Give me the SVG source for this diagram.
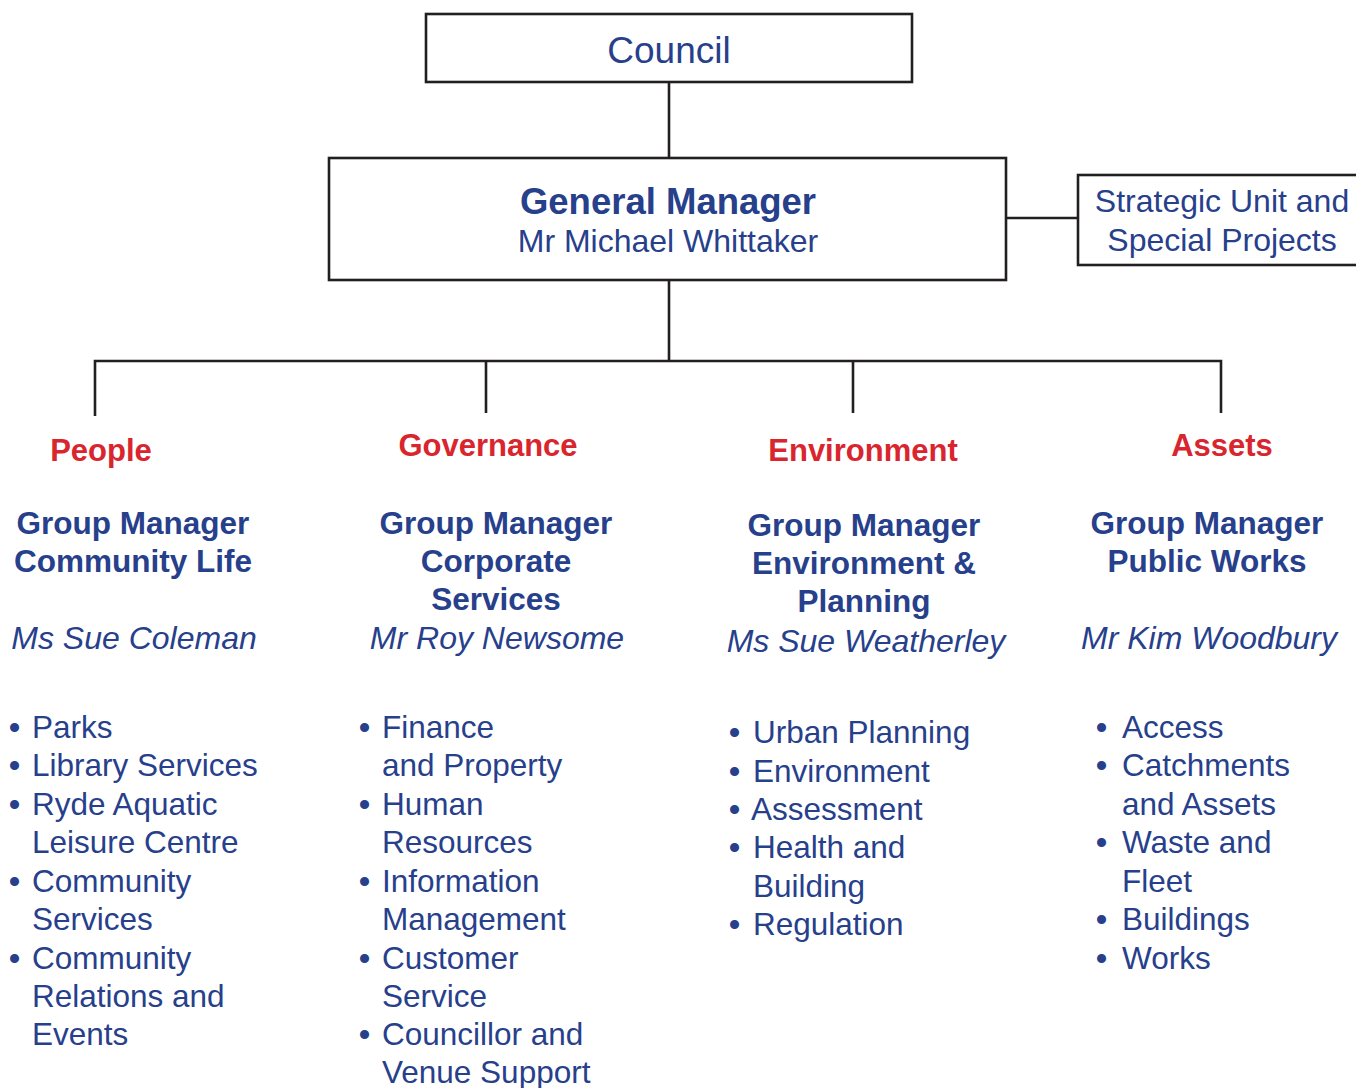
<svg xmlns="http://www.w3.org/2000/svg" width="1356" height="1088" viewBox="0 0 1356 1088">
  <style>
    .box { fill: #ffffff; stroke: #231f20; stroke-width: 2.6; }
    .wire { fill: none; stroke: #231f20; stroke-width: 2.6; }
    text { font-family: "Liberation Sans", Arial, sans-serif; fill: #27408b; }
    .mid { text-anchor: middle; }
    .head { font-weight: bold; font-size: 31px; fill: #d9252e; }
    .gm { font-weight: bold; font-size: 31.5px; }
    .name { font-style: italic; font-size: 32px; }
    .item { font-size: 31.5px; }
    .dot { font-weight: bold; }
  </style>
  <rect width="1356" height="1088" fill="#ffffff"/>

  <!-- connectors -->
  <g id="connectors">
    <line class="wire" x1="669" y1="82" x2="669" y2="158"/>
    <line class="wire" x1="1006" y1="218" x2="1078" y2="218"/>
    <line class="wire" x1="669" y1="280" x2="669" y2="361"/>
    <path class="wire" d="M95 416 V361 H1221 V413"/>
    <line class="wire" x1="486" y1="361" x2="486" y2="413"/>
    <line class="wire" x1="853" y1="361" x2="853" y2="413"/>
  </g>

  <g id="council">
    <rect class="box" x="426" y="14" width="486" height="68"/>
    <text class="mid" x="669" y="63" font-size="37">Council</text>
  </g>

  <g id="general-manager">
    <rect class="box" x="329" y="158" width="677" height="122"/>
    <text class="mid" x="668" y="214" font-size="36.5" font-weight="bold">General Manager</text>
    <text class="mid" x="668" y="252" font-size="32">Mr Michael Whittaker</text>
  </g>

  <g id="strategic-unit">
    <rect class="box" x="1078" y="175" width="292" height="90"/>
    <text class="mid" x="1222" y="212" font-size="32">Strategic Unit and</text>
    <text class="mid" x="1222" y="251" font-size="32">Special Projects</text>
  </g>

  <!-- bulleted lines: bullet glyph, then the item text at a fixed indent -->
  <g id="people">
    <text class="head mid" x="101" y="461">People</text>
    <text class="gm mid" x="133" y="534">Group Manager</text>
    <text class="gm mid" x="133" y="572">Community Life</text>
    <text class="name mid" x="134" y="649">Ms Sue Coleman</text>
    <g class="item">
      <text x="9" y="738"><tspan class="dot">•</tspan><tspan x="32">Parks</tspan></text>
      <text x="9" y="776"><tspan class="dot">•</tspan><tspan x="32">Library Services</tspan></text>
      <text x="9" y="815"><tspan class="dot">•</tspan><tspan x="32">Ryde Aquatic</tspan></text>
      <text x="32" y="853">Leisure Centre</text>
      <text x="9" y="892"><tspan class="dot">•</tspan><tspan x="32">Community</tspan></text>
      <text x="32" y="930">Services</text>
      <text x="9" y="969"><tspan class="dot">•</tspan><tspan x="32">Community</tspan></text>
      <text x="32" y="1007">Relations and</text>
      <text x="32" y="1045">Events</text>
    </g>
  </g>

  <g id="governance">
    <text class="head mid" x="488" y="456">Governance</text>
    <text class="gm mid" x="496" y="534">Group Manager</text>
    <text class="gm mid" x="496" y="572">Corporate</text>
    <text class="gm mid" x="496" y="610">Services</text>
    <text class="name mid" x="497" y="649">Mr Roy Newsome</text>
    <g class="item">
      <text x="359" y="738"><tspan class="dot">•</tspan><tspan x="382">Finance</tspan></text>
      <text x="382" y="776">and Property</text>
      <text x="359" y="815"><tspan class="dot">•</tspan><tspan x="382">Human</tspan></text>
      <text x="382" y="853">Resources</text>
      <text x="359" y="892"><tspan class="dot">•</tspan><tspan x="382">Information</tspan></text>
      <text x="382" y="930">Management</text>
      <text x="359" y="969"><tspan class="dot">•</tspan><tspan x="382">Customer</tspan></text>
      <text x="382" y="1007">Service</text>
      <text x="359" y="1045"><tspan class="dot">•</tspan><tspan x="382">Councillor and</tspan></text>
      <text x="382" y="1083">Venue Support</text>
    </g>
  </g>

  <g id="environment">
    <text class="head mid" x="863" y="461">Environment</text>
    <text class="gm mid" x="864" y="536">Group Manager</text>
    <text class="gm mid" x="864" y="574">Environment &amp;</text>
    <text class="gm mid" x="864" y="612">Planning</text>
    <text class="name mid" x="866" y="652">Ms Sue Weatherley</text>
    <g class="item">
      <text x="729" y="743"><tspan class="dot">•</tspan><tspan x="753">Urban Planning</tspan></text>
      <text x="729" y="782"><tspan class="dot">•</tspan><tspan x="753">Environment</tspan></text>
      <text x="729" y="820"><tspan class="dot">•</tspan><tspan x="751">Assessment</tspan></text>
      <text x="729" y="858"><tspan class="dot">•</tspan><tspan x="753">Health and</tspan></text>
      <text x="753" y="897">Building</text>
      <text x="729" y="935"><tspan class="dot">•</tspan><tspan x="753">Regulation</tspan></text>
    </g>
  </g>

  <g id="assets">
    <text class="head mid" x="1222" y="456">Assets</text>
    <text class="gm mid" x="1207" y="534">Group Manager</text>
    <text class="gm mid" x="1207" y="572">Public Works</text>
    <text class="name mid" x="1209" y="649">Mr Kim Woodbury</text>
    <g class="item">
      <text x="1096" y="738"><tspan class="dot">•</tspan><tspan x="1122">Access</tspan></text>
      <text x="1096" y="776"><tspan class="dot">•</tspan><tspan x="1122">Catchments</tspan></text>
      <text x="1122" y="815">and Assets</text>
      <text x="1096" y="853"><tspan class="dot">•</tspan><tspan x="1122">Waste and</tspan></text>
      <text x="1122" y="892">Fleet</text>
      <text x="1096" y="930"><tspan class="dot">•</tspan><tspan x="1122">Buildings</tspan></text>
      <text x="1096" y="969"><tspan class="dot">•</tspan><tspan x="1122">Works</tspan></text>
    </g>
  </g>
</svg>
